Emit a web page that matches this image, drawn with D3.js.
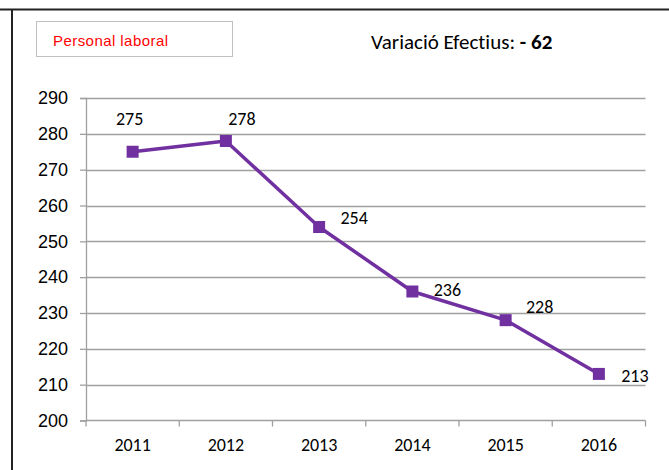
<!DOCTYPE html>
<html>
<head>
<meta charset="utf-8">
<script src="https://cdn.jsdelivr.net/npm/d3@7"></script>
<style>
  body { margin: 0; background: #fff; }
  svg { display: block; font-family: Carlito, Lato, "Open Sans", sans-serif; font-variant-ligatures: none; }
</style>
</head>
<body>
<svg id="chart" width="669" height="470"></svg>
<script>
// chart data
const years = ["2011", "2012", "2013", "2014", "2015", "2016"];
const values = [275, 278, 254, 236, 228, 213];
const yTicks = [200, 210, 220, 230, 240, 250, 260, 270, 280, 290];
const seriesName = "Personal laboral";
const variation = "- 62";
// label placement as dragged in the original sheet (dx, dy from the point)
const labelOffsets = [[-3, -27], [16, -16], [35, -3], [35, 4], [34, -7], [36, 8]];

const purple = "#7030A0";
const gridColor = "#a0a0a0";

const svg = d3.select("#chart");

// outer frame (top and left edge only)
svg.append("line").attr("x1", 0).attr("x2", 669).attr("y1", 9.5).attr("y2", 9.5)
  .attr("stroke", "#222").attr("stroke-width", 2);
svg.append("line").attr("x1", 12).attr("x2", 12).attr("y1", 9).attr("y2", 470)
  .attr("stroke", "#222").attr("stroke-width", 2);

// legend-ish box
svg.append("rect").attr("x", 36.5).attr("y", 21.5).attr("width", 196).attr("height", 35)
  .attr("fill", "#fff").attr("stroke", "#c0c0c0");
svg.append("text").attr("x", 53).attr("y", 46)
  .attr("font-family", "'Liberation Sans', Arial, sans-serif")
  .attr("font-size", 15).attr("fill", "#ff0000")
  .attr("textLength", 115).attr("lengthAdjust", "spacing")
  .text(seriesName);

// variation text
const vt = svg.append("text").attr("x", 371).attr("y", 49).attr("font-size", 21).attr("fill", "#000");
vt.append("tspan").text("Variació Efectius: ");
vt.append("tspan").attr("font-weight", "bold").text(variation);

const plotL = 86, plotR = 645.5, plotT = 98, plotB = 420.5;

const x = d3.scaleBand().domain(years).range([plotL, plotR]);
const y = d3.scaleLinear().domain([200, 290]).range([plotB, plotT]);

// gridlines
svg.append("g").selectAll("line").data(yTicks.slice(1)).join("line")
  .attr("x1", plotL).attr("x2", plotR)
  .attr("y1", d => Math.round(y(d)) + 0.5).attr("y2", d => Math.round(y(d)) + 0.5)
  .attr("stroke", gridColor).attr("stroke-width", 1.3);

// y axis
const yAxis = svg.append("g").attr("transform", `translate(${plotL},0)`)
  .call(d3.axisLeft(y).tickValues(yTicks).tickSize(6).tickPadding(12));
yAxis.select(".domain").attr("stroke", gridColor).attr("stroke-width", 1.3);
yAxis.selectAll(".tick line").attr("stroke", gridColor).attr("stroke-width", 1.3);
yAxis.selectAll("text").attr("font-size", 18).attr("font-family", null).attr("fill", "#000");

// x axis (ticks at category boundaries)
const xg = svg.append("g").attr("transform", `translate(0,${plotB})`);
xg.append("line").attr("x1", plotL).attr("x2", plotR).attr("stroke", gridColor).attr("stroke-width", 1.3);
const bounds = years.map(d => x(d)).concat([plotR]);
xg.selectAll("line.tk").data(bounds).join("line").attr("class", "tk")
  .attr("x1", d => d).attr("x2", d => d).attr("y1", 0).attr("y2", 6)
  .attr("stroke", gridColor).attr("stroke-width", 1.3);
xg.selectAll("text").data(years).join("text")
  .attr("x", d => x(d) + x.bandwidth() / 2).attr("y", 30)
  .attr("text-anchor", "middle").attr("font-size", 18).attr("fill", "#000")
  .text(d => d);

// series
const pts = years.map((d, i) => ({ year: d, value: values[i] }));
const cx = d => x(d.year) + x.bandwidth() / 2;

svg.append("path").datum(pts)
  .attr("fill", "none").attr("stroke", purple).attr("stroke-width", 3.5)
  .attr("stroke-linejoin", "round")
  .attr("d", d3.line().x(cx).y(d => y(d.value)));

svg.append("g").selectAll("rect").data(pts).join("rect")
  .attr("x", d => cx(d) - 6).attr("y", d => y(d.value) - 6)
  .attr("width", 12).attr("height", 12).attr("fill", purple);

svg.append("g").selectAll("text").data(pts).join("text")
  .attr("x", (d, i) => cx(d) + labelOffsets[i][0])
  .attr("y", (d, i) => y(d.value) + labelOffsets[i][1])
  .attr("text-anchor", "middle").attr("font-size", 18).attr("fill", "#000")
  .text(d => d.value);
</script>
</body>
</html>
